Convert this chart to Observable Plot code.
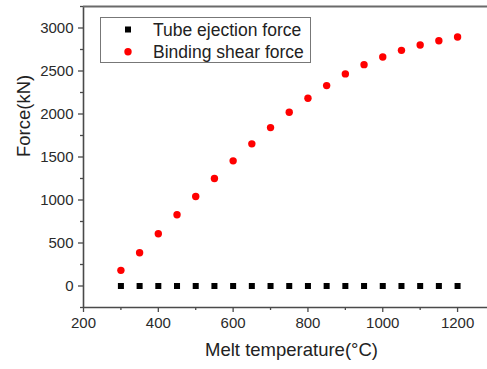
<!DOCTYPE html>
<html>
<head>
<meta charset="utf-8">
<script src="https://cdn.jsdelivr.net/npm/d3@7"></script>
<script src="https://cdn.jsdelivr.net/npm/@observablehq/plot@0.6"></script>
<style>
  html, body { margin: 0; padding: 0; background: white; overflow: hidden; }
  #chart { width: 487px; height: 369px; }
</style>
</head>
<body>
<div id="chart"></div>
<script>
const temperature = [300, 350, 400, 450, 500, 550, 600, 650, 700, 750, 800, 850, 900, 950, 1000, 1050, 1100, 1150, 1200];
const ejectionForce = [0, 0, 0, 0, 0, 0, 0, 0, 0, 0, 0, 0, 0, 0, 0, 0, 0, 0, 0];
const shearForce = [182, 387, 608, 829, 1041, 1250, 1455, 1653, 1842, 2020, 2183, 2330, 2466, 2574, 2663, 2740, 2802, 2852, 2895];
const seriesNames = ["Tube ejection force", "Binding shear force"];
const xTicks = [200, 400, 600, 800, 1000, 1200];
const xMinorTicks = [300, 500, 700, 900, 1100];
const yTicks = [0, 500, 1000, 1500, 2000, 2500, 3000];
const yMinorTicks = [-250, 250, 750, 1250, 1750, 2250, 2750, 3250];
const xTitle = "Melt temperature(\u00B0C)";
const yTitle = "Force(kN)";

const ejection = temperature.map((t, i) => ({t, f: ejectionForce[i]}));
const shear = temperature.map((t, i) => ({t, f: shearForce[i]}));

const axisColor = "#4a4a4a";
const font = "'Liberation Sans', Arial, sans-serif";

const plot = Plot.plot({
  width: 487,
  height: 369,
  marginLeft: 83,
  marginRight: 0,
  marginTop: 6,
  marginBottom: 62,
  style: {fontFamily: font, background: "white", overflow: "hidden"},
  x: {domain: [200, 1280]},
  y: {domain: [-250, 3250]},
  marks: [
    Plot.ruleX([200], {stroke: axisColor, strokeWidth: 1.6}),
    Plot.ruleY([-250], {stroke: axisColor, strokeWidth: 1.6}),
    Plot.ruleY([3250], {stroke: "#6a6a6a", strokeWidth: 2}),
    Plot.axisX({ticks: xTicks, tickFormat: "d", tickSize: 5, tickPadding: 5, stroke: axisColor, strokeWidth: 1.3, fontSize: 15, color: "#2a2a2a", label: null}),
    Plot.axisX({ticks: xMinorTicks, tickSize: 3, text: null, stroke: axisColor, strokeWidth: 1.3, label: null}),
    Plot.axisY({ticks: yTicks, tickFormat: "d", tickSize: 5, tickPadding: 5, stroke: axisColor, strokeWidth: 1.3, fontSize: 15, color: "#2a2a2a", label: null}),
    Plot.axisY({ticks: yMinorTicks, tickSize: 3, text: null, stroke: axisColor, strokeWidth: 1.3, label: null}),
    Plot.dot(ejection, {x: "t", y: "f", symbol: "square", r: 3.4, fill: "black", stroke: "none"}),
    Plot.dot(shear, {x: "t", y: "f", symbol: "circle", r: 3.7, fill: "#ff0000", stroke: "none"}),
    Plot.text([xTitle], {frameAnchor: "bottom", dx: 6, dy: 48, fontSize: 18.5, fill: "#222", text: d => d}),
    Plot.text([yTitle], {frameAnchor: "left", dx: -59, rotate: -90, fontSize: 18.5, fill: "#222", text: d => d})
  ]
});

document.getElementById("chart").appendChild(plot);

// Legend
const svg = d3.select(plot);
const lg = svg.append("g").attr("font-family", font).attr("text-anchor", "start");
lg.append("rect")
  .attr("x", 100.5).attr("y", 17.5).attr("width", 210).attr("height", 45)
  .attr("fill", "white").attr("stroke", "#777").attr("stroke-width", 1);
const legendColors = ["black", "#ff0000"];
const legendSymbols = [d3.symbolSquare, d3.symbolCircle];
seriesNames.forEach((name, i) => {
  const cy = 29.5 + i * 22.2;
  lg.append("path")
    .attr("transform", `translate(128,${cy})`)
    .attr("d", d3.symbol(legendSymbols[i], i === 0 ? 3.4 * 3.4 * Math.PI : 3.7 * 3.7 * Math.PI)())
    .attr("fill", legendColors[i]);
  lg.append("text")
    .attr("x", 153).attr("y", cy).attr("dy", "0.35em")
    .attr("text-anchor", "start")
    .attr("font-size", 17.5).attr("fill", "#222")
    .text(name);
});
</script>
</body>
</html>
